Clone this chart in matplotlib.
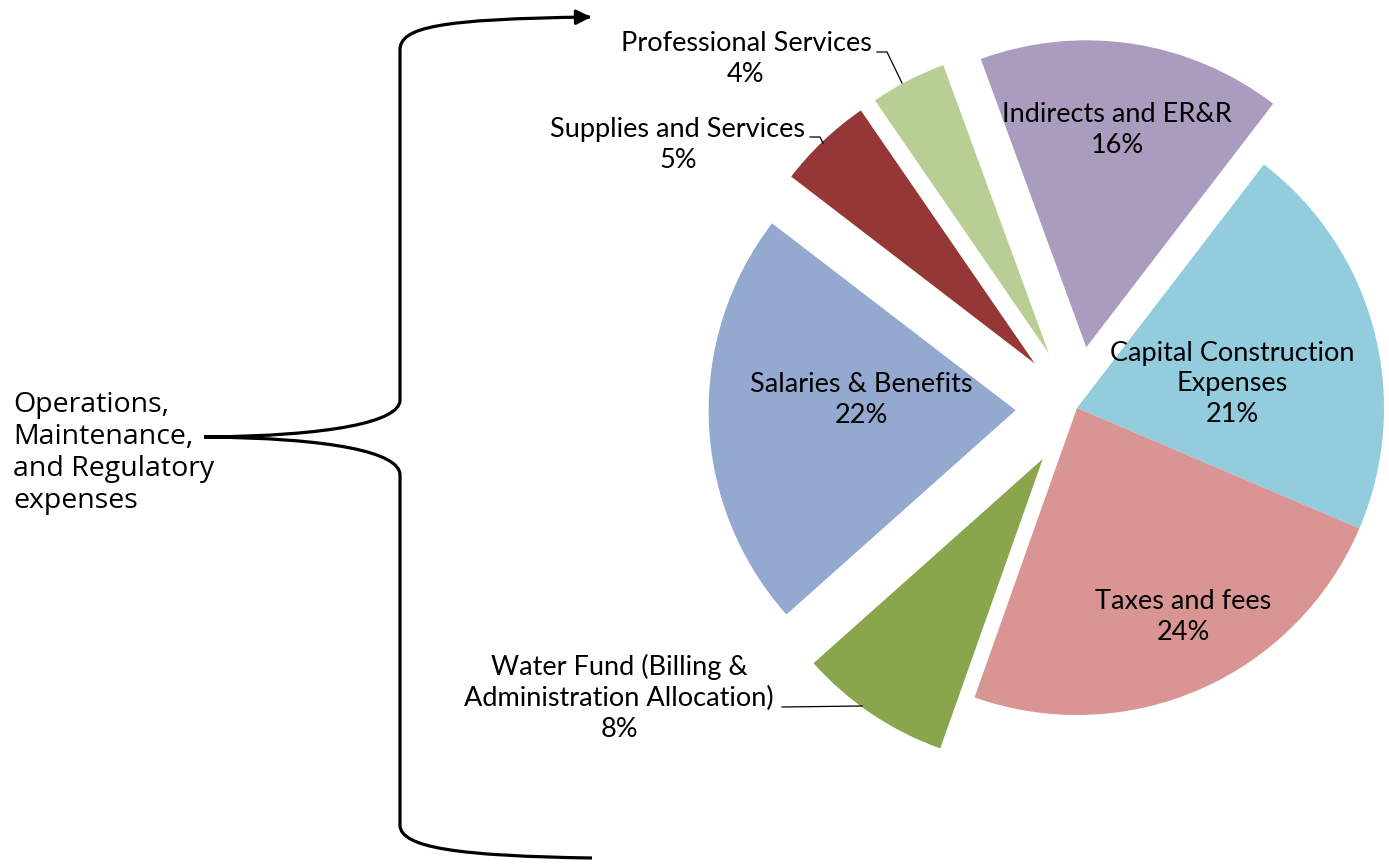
import matplotlib
matplotlib.use("Agg")
from matplotlib import pyplot as plt
from matplotlib.path import Path
from matplotlib.patches import PathPatch

# expense categories, in drawing order (clockwise from the top right)
categories = ["Capital Construction\nExpenses", "Taxes and fees",
              "Water Fund (Billing &\nAdministration Allocation)",
              "Salaries & Benefits", "Supplies and Services",
              "Professional Services", "Indirects and ER&R"]
shares = [21, 24, 8, 22, 5, 4, 16]
colors = ["#92CCDD", "#D99594", "#8AA64D", "#94A9D0", "#953735", "#B9CE95", "#AA9CBF"]
explode = [0, 0, 0.2, 0.2, 0.2, 0.2, 0.2]

# label centres (pixels, y down)
label_xy = [(1232, 384), (1183, 617), (619, 698), (861, 400),
            (678, 145), (746, 59), (1117, 130)]

W, H = 1389, 867
R = 307
fig = plt.figure(figsize=(W / 100, H / 100), dpi=100)
ax = fig.add_axes([0, 0, 1, 1])

# y axis runs downward, so counterclock=True draws clockwise on screen
# (pie takes explode in data units, hence the scaling by the radius)
ax.pie(shares, colors=colors, explode=[e * R for e in explode],
       startangle=-52.5, counterclock=True, center=(1077, 408), radius=R,
       wedgeprops=dict(linewidth=0))
ax.set_xlim(0, W)
ax.set_ylim(H, 0)
ax.set_aspect("auto")
ax.axis("off")

FONT = "Lato"
FS = 19.5
for name, val, (x, y) in zip(categories, shares, label_xy):
    ax.text(x, y, f"{name}\n{val}%", ha="center", va="center",
            fontsize=FS, family=FONT, linespacing=1.3, color="black")

# leader lines for the outside labels
leaders = [[(877, 52), (887, 52), (902, 83)],
           [(810, 137), (820, 137), (823, 143)],
           [(782, 707), (862, 706)]]
for pts in leaders:
    xs, ys = zip(*pts)
    ax.plot(xs, ys, color="black", lw=0.9)

# curly brace grouping the operating expenses
verts = [(590, 17), (440, 19), (400, 27), (400, 50),
         (400, 400),
         (400, 422), (330, 436), (204, 437),
         (204, 437), (330, 438), (400, 452), (400, 475),
         (400, 825),
         (400, 848), (460, 856), (592, 858)]
codes = [Path.MOVETO, Path.CURVE4, Path.CURVE4, Path.CURVE4,
         Path.LINETO,
         Path.CURVE4, Path.CURVE4, Path.CURVE4,
         Path.MOVETO, Path.CURVE4, Path.CURVE4, Path.CURVE4,
         Path.LINETO,
         Path.CURVE4, Path.CURVE4, Path.CURVE4]
ax.add_patch(PathPatch(Path(verts, codes), fill=False, lw=2.3,
                       edgecolor="black", capstyle="butt"))
ax.annotate("", xy=(594, 17), xytext=(575, 17.2),
            arrowprops=dict(arrowstyle="-|>", color="black", lw=2.3,
                            mutation_scale=22))

ax.text(13, 453, "Operations,\nMaintenance,\nand Regulatory\nexpenses",
        ha="left", va="center", fontsize=20.5, family="Open Sans",
        linespacing=1.2)

fig.savefig("out.png", dpi=100)
